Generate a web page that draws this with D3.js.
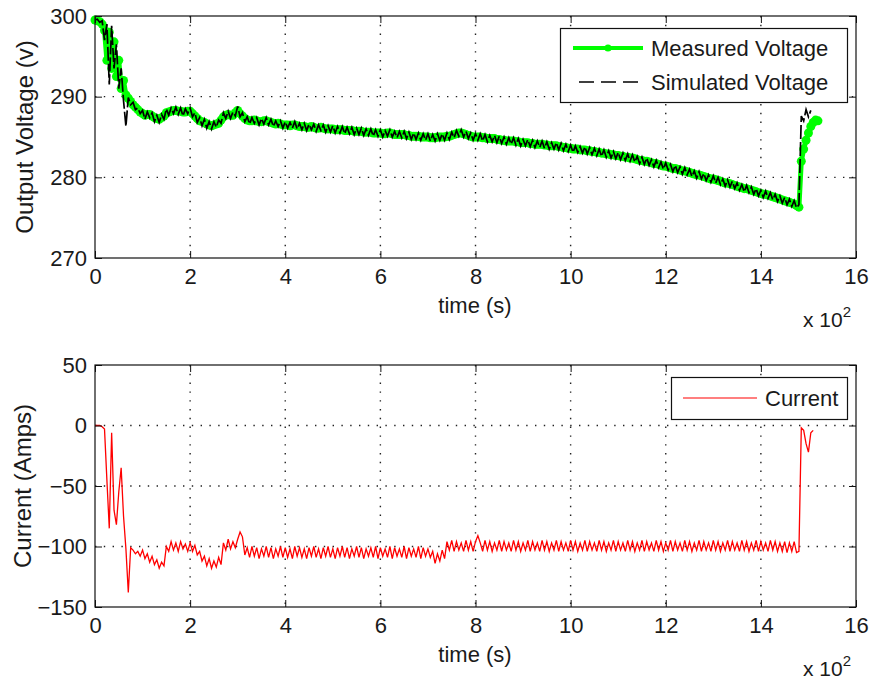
<!DOCTYPE html>
<html>
<head>
<meta charset="utf-8">
<script src="https://cdn.jsdelivr.net/npm/d3@7"></script>
<style>
  body { margin: 0; background: #fff; }
  svg text { font-family: "Liberation Sans", Arial, sans-serif; fill: #1a1a1a; }
</style>
</head>
<body>
<div id="chart"></div>
<script>
// sample times (s): every 5 s up to 1480, then the recovery step
const time = [...d3.range(0, 1485, 5), 1485, 1490, 1495, 1500, 1505, 1510, 1515, 1520];

const measuredVoltage = [
  // 0 - 95
  299.5, 299.4, 299.3, 299.0, 298.2, 294.5, 298.0, 293.5, 296.8, 292.5,
  294.5, 291.0, 292.0, 290.2, 289.8, 289.4, 289.0, 288.7, 288.4, 288.1,
  // 100 - 1480
  287.9, 287.7, 287.8, 287.8, 287.6, 287.4, 287.3, 287.2, 287.4, 287.6, 288.0, 288.1, 288.2, 288.3, 288.3, 288.2, 288.2, 288.1, 288.1, 288.2,
  288.2, 287.9, 287.6, 287.3, 287.0, 286.9, 286.8, 286.6, 286.5, 286.4, 286.5, 286.6, 286.7, 287.1, 287.5, 287.7, 287.8, 287.7, 287.7, 288.0,
  288.3, 287.9, 287.6, 287.3, 287.1, 287.0, 287.0, 287.1, 287.0, 286.9, 286.9, 287.0, 287.0, 286.9, 286.8, 286.7, 286.6, 286.7, 286.6, 286.5,
  286.5, 286.5, 286.4, 286.5, 286.5, 286.4, 286.3, 286.3, 286.3, 286.2, 286.2, 286.3, 286.2, 286.1, 286.1, 286.2, 286.1, 286.0, 286.0, 286.0,
  286.0, 285.9, 285.9, 285.9, 285.9, 285.8, 285.8, 285.8, 285.8, 285.7, 285.7, 285.7, 285.7, 285.6, 285.6, 285.6, 285.6, 285.5, 285.5, 285.5,
  285.5, 285.4, 285.4, 285.5, 285.5, 285.4, 285.3, 285.3, 285.3, 285.3, 285.3, 285.2, 285.2, 285.1, 285.1, 285.1, 285.1, 285.0, 285.0, 285.0,
  285.0, 284.9, 284.9, 284.9, 285.0, 285.0, 285.0, 285.0, 285.1, 285.1, 285.2, 285.3, 285.4, 285.5, 285.5, 285.4, 285.3, 285.2, 285.1, 285.0,
  285.0, 285.0, 285.0, 284.9, 284.9, 284.8, 284.8, 284.8, 284.8, 284.7, 284.7, 284.6, 284.6, 284.5, 284.5, 284.5, 284.5, 284.4, 284.4, 284.3,
  284.3, 284.3, 284.3, 284.2, 284.2, 284.1, 284.1, 284.1, 284.1, 284.0, 284.0, 283.9, 283.9, 283.9, 283.9, 283.8, 283.8, 283.7, 283.7, 283.6,
  283.6, 283.5, 283.5, 283.5, 283.4, 283.4, 283.4, 283.3, 283.3, 283.2, 283.2, 283.1, 283.1, 283.0, 283.0, 282.9, 282.9, 282.8, 282.8, 282.7,
  282.7, 282.6, 282.6, 282.5, 282.5, 282.4, 282.4, 282.3, 282.2, 282.1, 282.1, 282.0, 282.0, 281.9, 281.8, 281.7, 281.7, 281.6, 281.5, 281.4,
  281.4, 281.3, 281.2, 281.1, 281.1, 281.0, 280.9, 280.8, 280.8, 280.7, 280.6, 280.5, 280.4, 280.3, 280.3, 280.2, 280.1, 280.0, 279.9, 279.8,
  279.8, 279.7, 279.6, 279.5, 279.4, 279.3, 279.3, 279.2, 279.1, 279.0, 278.9, 278.8, 278.7, 278.6, 278.6, 278.5, 278.4, 278.3, 278.2, 278.1,
  278.0, 277.9, 277.9, 277.8, 277.7, 277.6, 277.5, 277.4, 277.3, 277.2, 277.1, 277.0, 276.9, 276.8, 276.7, 276.5, 276.3,
  // 1485 - 1520
  282.0, 283.5, 284.6, 285.5, 286.3, 286.8, 287.1, 287.0
];

const simulatedVoltage = [
  299.5, 299.6, 299.2, 299.4, 297.0, 299.0, 291.5, 298.8, 293.5, 296.5,
  291.0, 293.5, 289.5, 286.3, 289.9, 289.0, 289.3, 288.4, 288.6, 287.9,
  288.3, 287.2, 288.1, 287.4, 288.0, 286.9, 287.7, 286.8, 287.8, 287.2, 288.5, 287.7, 288.6, 287.9, 288.7, 287.8, 288.6, 287.6, 288.5, 287.9,
  288.6, 287.5, 288.0, 286.8, 287.4, 286.4, 287.2, 286.1, 286.9, 286.0, 286.9, 286.2, 287.1, 286.7, 288.0, 287.3, 288.2, 287.3, 288.1, 287.6,
  288.8, 287.5, 288.0, 286.9, 287.5, 286.6, 287.4, 286.7, 287.4, 286.5, 287.3, 286.6, 287.4, 286.5, 287.2, 286.3, 287.0, 286.3, 287.0, 286.1,
  286.9, 286.1, 286.8, 286.1, 286.9, 286.0, 286.7, 285.9, 286.7, 285.8, 286.6, 285.9, 286.6, 285.7, 286.5, 285.8, 286.5, 285.6, 286.4, 285.6,
  286.4, 285.5, 286.3, 285.5, 286.3, 285.4, 286.2, 285.4, 286.2, 285.3, 286.1, 285.3, 286.1, 285.2, 286.0, 285.2, 286.0, 285.1, 285.9, 285.1,
  285.9, 285.0, 285.8, 285.1, 285.9, 285.0, 285.7, 284.9, 285.7, 284.9, 285.7, 284.8, 285.6, 284.7, 285.5, 284.7, 285.5, 284.6, 285.4, 284.6,
  285.4, 284.5, 285.3, 284.5, 285.4, 284.6, 285.4, 284.6, 285.5, 284.7, 285.6, 284.9, 285.8, 285.1, 285.9, 285.0, 285.7, 284.8, 285.5, 284.6,
  285.4, 284.6, 285.4, 284.5, 285.3, 284.4, 285.2, 284.4, 285.2, 284.3, 285.1, 284.2, 285.0, 284.1, 284.9, 284.1, 284.9, 284.0, 284.8, 283.9,
  284.7, 283.9, 284.7, 283.8, 284.6, 283.7, 284.5, 283.7, 284.5, 283.6, 284.4, 283.5, 284.3, 283.5, 284.3, 283.4, 284.2, 283.3, 284.1, 283.2,
  284.0, 283.1, 283.9, 283.1, 283.8, 283.0, 283.8, 282.9, 283.7, 282.8, 283.6, 282.7, 283.5, 282.6, 283.4, 282.5, 283.3, 282.4, 283.2, 282.3,
  283.1, 282.2, 283.0, 282.1, 282.9, 282.0, 282.8, 281.9, 282.6, 281.7, 282.5, 281.6, 282.4, 281.5, 282.2, 281.3, 282.1, 281.2, 281.9, 281.0,
  281.8, 280.9, 281.6, 280.7, 281.5, 280.6, 281.3, 280.4, 281.2, 280.3, 281.0, 280.1, 280.8, 279.9, 280.7, 279.8, 280.5, 279.6, 280.3, 279.4,
  280.2, 279.3, 280.0, 279.1, 279.8, 278.9, 279.7, 278.8, 279.5, 278.6, 279.3, 278.4, 279.1, 278.2, 279.0, 278.1, 278.8, 277.9, 278.6, 277.7,
  278.4, 277.5, 278.3, 277.4, 278.1, 277.2, 277.9, 277.0, 277.7, 276.8, 277.5, 276.6, 277.3, 276.4, 277.1, 276.2, 276.6,
  287.6, 287.0, 288.4, 287.5, 288.3, null, null, null
];

const current = [
  0, 0, 0, -1, -3, -45, -85, -6, -70, -82,
  -55, -35, -75, -102, -138, -101, -103, -106, -104, -108,
  -103, -110, -106, -113, -108, -115, -111, -118, -113, -116, -100, -104, -96, -103, -97, -104, -96, -102, -98, -104,
  -97, -104, -99, -107, -104, -112, -108, -116, -110, -118, -112, -117, -109, -115, -97, -103, -94, -102, -96, -101,
  -94, -88, -92, -107, -101, -109, -100, -108, -101, -110, -102, -108, -100, -109, -101, -110, -102, -108, -100, -109,
  -101, -109, -102, -110, -100, -108, -101, -109, -102, -110, -101, -108, -100, -109, -102, -110, -101, -108, -100, -109,
  -102, -110, -101, -108, -100, -109, -101, -110, -102, -108, -100, -109, -101, -110, -102, -108, -101, -109, -100, -110,
  -101, -108, -102, -109, -100, -110, -101, -108, -102, -109, -100, -110, -101, -108, -102, -109, -100, -110, -101, -108,
  -102, -109, -104, -114, -106, -112, -103, -110, -96, -103, -95, -104, -96, -103, -97, -104, -95, -103, -96, -104,
  -96, -91, -97, -104, -95, -103, -96, -104, -97, -103, -95, -104, -96, -103, -97, -104, -95, -103, -96, -104,
  -97, -103, -95, -104, -96, -103, -97, -104, -95, -103, -96, -104, -97, -103, -95, -104, -96, -103, -97, -104,
  -95, -103, -96, -104, -97, -103, -95, -104, -96, -103, -97, -104, -95, -103, -96, -104, -97, -103, -95, -104,
  -96, -103, -97, -104, -95, -103, -96, -104, -97, -103, -95, -104, -96, -103, -97, -104, -95, -103, -96, -104,
  -97, -103, -95, -104, -96, -103, -97, -104, -95, -103, -96, -104, -97, -103, -95, -104, -96, -103, -97, -104,
  -95, -103, -96, -104, -97, -103, -95, -104, -96, -103, -97, -104, -95, -103, -96, -104, -97, -103, -95, -104,
  -96, -103, -97, -104, -95, -103, -96, -104, -97, -104, -96, -105, -97, -104, -96, -105, -104,
  -2, -4, -15, -22, -6, -4, null, null
];

const xTicks = [0, 200, 400, 600, 800, 1000, 1200, 1400, 1600];
const xTickLabels = ["0", "2", "4", "6", "8", "10", "12", "14", "16"];
const voltageTicks = [270, 280, 290, 300];
const currentTicks = [-150, -100, -50, 0, 50];

const width = 871;
const height = 681;
const font = '"Liberation Sans", Arial, sans-serif';

const svg = d3.select("#chart").append("svg")
  .attr("width", width)
  .attr("height", height);

const x = d3.scaleLinear().domain([0, 1600]).range([95, 856]);

function drawPanel(cfg) {
  const y = d3.scaleLinear().domain(cfg.yDomain).range([cfg.bottom, cfg.top]);
  const g = svg.append("g");

  // dotted grid
  const grid = g.append("g")
    .attr("stroke", "#222")
    .attr("stroke-width", 1.4)
    .attr("stroke-dasharray", "1.4,7.4");
  grid.selectAll(".vgrid").data(xTicks.slice(1, -1)).join("line")
    .attr("x1", d => x(d)).attr("x2", d => x(d))
    .attr("y1", cfg.top).attr("y2", cfg.bottom);
  grid.selectAll(".hgrid").data(cfg.yTicks.slice(1, -1)).join("line")
    .attr("x1", x.range()[0]).attr("x2", x.range()[1])
    .attr("y1", d => y(d)).attr("y2", d => y(d));

  cfg.draw(g, y);

  // axes with inward ticks, on all four sides
  const styleAxis = a => {
    a.select(".domain").remove();
    a.selectAll(".tick line").attr("stroke", "#111");
    a.selectAll("text").attr("font-size", 22).attr("font-family", font).attr("fill", "#1a1a1a");
  };
  g.append("g").attr("transform", `translate(0,${cfg.bottom})`)
    .call(d3.axisBottom(x).tickValues(xTicks).tickFormat((d, i) => xTickLabels[i]).tickSize(-7).tickPadding(10))
    .call(styleAxis);
  g.append("g").attr("transform", `translate(0,${cfg.top})`)
    .call(d3.axisTop(x).tickValues(xTicks).tickFormat("").tickSize(-7))
    .call(styleAxis);
  g.append("g").attr("transform", `translate(${x.range()[0]},0)`)
    .call(d3.axisLeft(y).tickValues(cfg.yTicks).tickSize(-7).tickPadding(8))
    .call(styleAxis);
  g.append("g").attr("transform", `translate(${x.range()[1]},0)`)
    .call(d3.axisRight(y).tickValues(cfg.yTicks).tickFormat("").tickSize(-7))
    .call(styleAxis);

  g.append("rect")
    .attr("x", x.range()[0]).attr("y", cfg.top)
    .attr("width", x.range()[1] - x.range()[0]).attr("height", cfg.bottom - cfg.top)
    .attr("fill", "none").attr("stroke", "#111").attr("stroke-width", 1.2);

  // labels
  g.append("text")
    .attr("x", 475).attr("y", cfg.bottom + 55)
    .attr("text-anchor", "middle").attr("font-size", 22)
    .text("time (s)");
  const exp = g.append("text")
    .attr("x", 803).attr("y", cfg.bottom + 69)
    .attr("font-size", 21);
  exp.append("tspan").text("x 10");
  exp.append("tspan").attr("dy", -10).attr("font-size", 15).text("2");

  g.append("text")
    .attr("transform", `translate(${cfg.labelX},${(cfg.top + cfg.bottom) / 2}) rotate(-90)`)
    .attr("text-anchor", "middle").attr("font-size", 24)
    .text(cfg.yLabel);

  return y;
}

// ---- top panel: voltages
drawPanel({
  top: 16, bottom: 258,
  yDomain: [270, 300], yTicks: voltageTicks,
  yLabel: "Output Voltage (v)", labelX: 33,
  draw: (g, y) => {
    const measured = time.map((t, i) => ({ t, v: measuredVoltage[i] }));
    const simulated = time.map((t, i) => ({ t, v: simulatedVoltage[i] }));
    const line = d3.line().defined(d => d.v != null).x(d => x(d.t)).y(d => y(d.v));

    g.append("path").datum(measured)
      .attr("d", line).attr("fill", "none")
      .attr("stroke", "#00ff00").attr("stroke-width", 5)
      .attr("stroke-linejoin", "round");
    g.append("g").selectAll("circle").data(measured).join("circle")
      .attr("cx", d => x(d.t)).attr("cy", d => y(d.v))
      .attr("r", 4.5).attr("fill", "#00ff00");

    g.append("path").datum(simulated)
      .attr("d", line).attr("fill", "none")
      .attr("stroke", "#000").attr("stroke-width", 1.7)
      .attr("stroke-dasharray", "14,3");
  }
});

// ---- bottom panel: current
drawPanel({
  top: 365, bottom: 607,
  yDomain: [-150, 50], yTicks: currentTicks,
  yLabel: "Current (Amps)", labelX: 31,
  draw: (g, y) => {
    const amps = time.map((t, i) => ({ t, v: current[i] }));
    const line = d3.line().defined(d => d.v != null).x(d => x(d.t)).y(d => y(d.v));
    g.append("path").datum(amps)
      .attr("d", line).attr("fill", "none")
      .attr("stroke", "#ff0000").attr("stroke-width", 1.3);
  }
});

// ---- legends
const legTop = svg.append("g");
legTop.append("rect")
  .attr("x", 560.5).attr("y", 28.5).attr("width", 287).attr("height", 74)
  .attr("fill", "#fff").attr("stroke", "#111").attr("stroke-width", 1.2);
legTop.append("line")
  .attr("x1", 573).attr("x2", 643).attr("y1", 48).attr("y2", 48)
  .attr("stroke", "#00ff00").attr("stroke-width", 4);
legTop.append("circle").attr("cx", 608).attr("cy", 48).attr("r", 3.6).attr("fill", "#00ff00");
legTop.append("line")
  .attr("x1", 579).attr("x2", 643).attr("y1", 82).attr("y2", 82)
  .attr("stroke", "#000").attr("stroke-width", 1.6).attr("stroke-dasharray", "15,7");
legTop.selectAll("text").data(["Measured Voltage", "Simulated Voltage"]).join("text")
  .attr("x", 651).attr("y", (d, i) => 48 + i * 34)
  .attr("dy", "0.36em").attr("font-size", 22)
  .text(d => d);

const legBot = svg.append("g");
legBot.append("rect")
  .attr("x", 671.5).attr("y", 377.5).attr("width", 176).attr("height", 42)
  .attr("fill", "#fff").attr("stroke", "#111").attr("stroke-width", 1.2);
legBot.append("line")
  .attr("x1", 683).attr("x2", 757).attr("y1", 398).attr("y2", 398)
  .attr("stroke", "#ff0000").attr("stroke-width", 1.2);
legBot.append("text")
  .attr("x", 765).attr("y", 398).attr("dy", "0.36em").attr("font-size", 22)
  .text("Current");
</script>
</body>
</html>
